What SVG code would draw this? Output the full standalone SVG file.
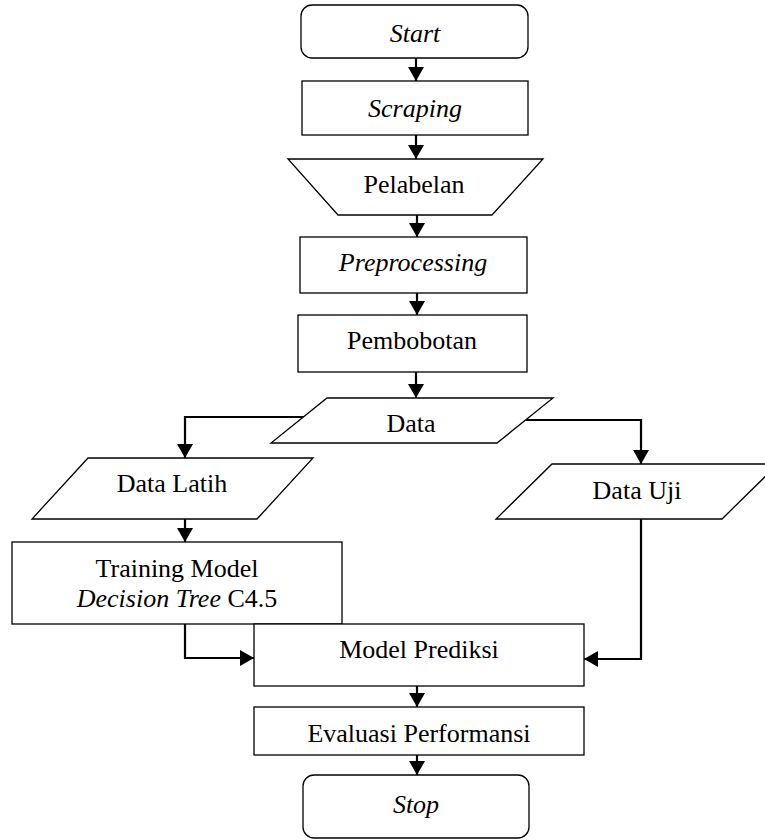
<svg xmlns="http://www.w3.org/2000/svg" width="765" height="840" viewBox="0 0 765 840">
  <style>
    .box { fill: #ffffff; stroke: #000000; stroke-width: 1.3; }
    .lbl { font-family: "Liberation Serif", "Times New Roman", serif; font-size: 26px; fill: #000000; text-anchor: middle; }
    .it { font-style: italic; }
    .edge { fill: none; stroke: #000000; stroke-width: 2.2; }
  </style>
  <defs>
    <marker id="arrow" markerUnits="userSpaceOnUse" markerWidth="16" markerHeight="16" viewBox="0 0 14 16" refX="14" refY="8" orient="auto">
      <path d="M0,0 L14,8 L0,16 Z" fill="#000000"/>
    </marker>
  </defs>
  <rect width="765" height="840" fill="#ffffff"/>

  <!-- flow connectors -->
  <g id="connectors">
    <line class="edge" x1="416" y1="58" x2="416" y2="81" marker-end="url(#arrow)"/>
    <line class="edge" x1="416" y1="135" x2="416" y2="159" marker-end="url(#arrow)"/>
    <line class="edge" x1="417" y1="215" x2="417" y2="237" marker-end="url(#arrow)"/>
    <line class="edge" x1="417" y1="293" x2="417" y2="315" marker-end="url(#arrow)"/>
    <line class="edge" x1="416" y1="372" x2="416" y2="398" marker-end="url(#arrow)"/>
    <polyline class="edge" points="304,417 185,417 185,458" marker-end="url(#arrow)"/>
    <polyline class="edge" points="526,420 641,420 641,464" marker-end="url(#arrow)"/>
    <line class="edge" x1="185" y1="519" x2="185" y2="542" marker-end="url(#arrow)"/>
    <polyline class="edge" points="185,624 185,658 254,658" marker-end="url(#arrow)"/>
    <polyline class="edge" points="641,519 641,659 584,659" marker-end="url(#arrow)"/>
    <line class="edge" x1="417" y1="686" x2="417" y2="707" marker-end="url(#arrow)"/>
    <line class="edge" x1="417" y1="755" x2="417" y2="775" marker-end="url(#arrow)"/>
  </g>

  <g id="start">
    <rect class="box" x="301" y="5" width="227" height="53" rx="11"/>
    <text class="lbl it" x="415" y="42">Start</text>
  </g>
  <g id="scraping">
    <rect class="box" x="302" y="81" width="226" height="54"/>
    <text class="lbl it" x="415" y="117">Scraping</text>
  </g>
  <g id="pelabelan">
    <polygon class="box" points="288,159 543,159 492,215 338,215"/>
    <text class="lbl" x="414" y="193">Pelabelan</text>
  </g>
  <g id="preprocessing">
    <rect class="box" x="300" y="237" width="227" height="56"/>
    <text class="lbl it" x="413" y="271">Preprocessing</text>
  </g>
  <g id="pembobotan">
    <rect class="box" x="298" y="315" width="229" height="57"/>
    <text class="lbl" x="412" y="349">Pembobotan</text>
  </g>
  <g id="data">
    <polygon class="box" points="327,398 553,398 497,443 271,443"/>
    <text class="lbl" x="411" y="432">Data</text>
  </g>
  <g id="data-latih">
    <polygon class="box" points="88,458 313,458 257,519 32,519"/>
    <text class="lbl" x="172" y="492">Data Latih</text>
  </g>
  <g id="data-uji">
    <polygon class="box" points="552,464 778,464 722,519 496,519"/>
    <text class="lbl" x="637" y="499">Data Uji</text>
  </g>
  <g id="training-model">
    <rect class="box" x="12" y="542" width="330" height="82"/>
    <text class="lbl" x="177" y="577">Training Model</text>
    <text class="lbl" x="177" y="607"><tspan class="it">Decision Tree</tspan> C4.5</text>
  </g>
  <g id="model-prediksi">
    <rect class="box" x="254" y="624" width="330" height="62"/>
    <text class="lbl" x="419" y="658">Model Prediksi</text>
  </g>
  <g id="evaluasi">
    <rect class="box" x="254" y="707" width="330" height="48"/>
    <text class="lbl" x="419" y="742">Evaluasi Performansi</text>
  </g>
  <g id="stop">
    <rect class="box" x="303" y="775" width="226" height="63" rx="11"/>
    <text class="lbl it" x="416" y="813">Stop</text>
  </g>
</svg>
